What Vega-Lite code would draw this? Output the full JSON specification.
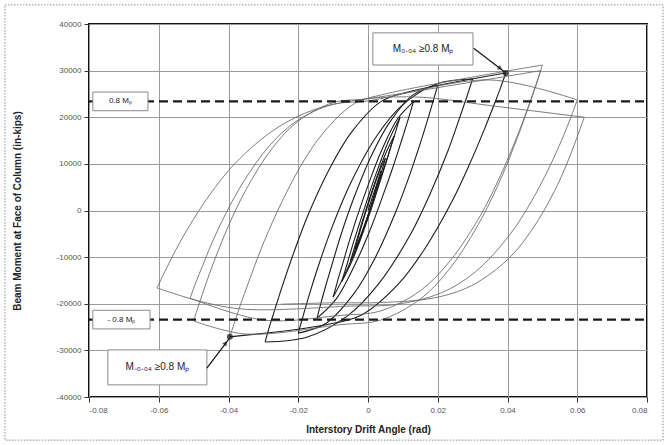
{
"$schema":"https://vega.github.io/schema/vega-lite/v6.json",
"width":558,"height":373,"autosize":"none",
"padding":{"left":89,"top":24,"right":21,"bottom":48},
"background":"white",
"config":{"view":{"stroke":"#111","strokeWidth":2},"font":"Liberation Sans",
 "axis":{"gridColor":"#9a9a9a","gridWidth":1,"domain":false,"tickColor":"#333","tickSize":5,"labelFontSize":8,"labelColor":"#555","titleFontSize":10,"titleFontWeight":"bold","titleColor":"#222"}},
"datasets":{
"hyst":[
{"h":0,"i":0,"d":0,"m":0,"t":"a"},{"h":0,"i":1,"d":0.00375,"m":8500,"t":"a"},
{"h":1,"i":0,"d":0.00375,"m":8500,"t":"a"},{"h":1,"i":1,"d":0.00225,"m":4550,"t":"a"},{"h":1,"i":2,"d":0.0004,"m":-100,"t":"a"},{"h":1,"i":3,"d":-0.00225,"m":-5860,"t":"a"},{"h":1,"i":4,"d":-0.00375,"m":-8300,"t":"a"},
{"h":2,"i":0,"d":-0.00375,"m":-8300,"t":"a"},{"h":2,"i":1,"d":-0.002,"m":-3720,"t":"a"},{"h":2,"i":2,"d":0.0002,"m":1680,"t":"a"},{"h":2,"i":3,"d":0.00325,"m":8370,"t":"a"},{"h":2,"i":4,"d":0.005,"m":11200,"t":"a"},
{"h":3,"i":0,"d":0.005,"m":11200,"t":"a"},{"h":3,"i":1,"d":0.003,"m":6030,"t":"a"},{"h":3,"i":2,"d":0.0005,"m":-60,"t":"a"},{"h":3,"i":3,"d":-0.003,"m":-7610,"t":"a"},{"h":3,"i":4,"d":-0.005,"m":-10800,"t":"a"},
{"h":4,"i":0,"d":-0.005,"m":-10800,"t":"a"},{"h":4,"i":1,"d":-0.0025,"m":-4500,"t":"a"},{"h":4,"i":2,"d":0.0006,"m":2920,"t":"a"},{"h":4,"i":3,"d":0.005,"m":12110,"t":"a"},{"h":4,"i":4,"d":0.0075,"m":16000,"t":"a"},
{"h":5,"i":0,"d":0.0075,"m":16000,"t":"a"},{"h":5,"i":1,"d":0.0045,"m":8670,"t":"a"},{"h":5,"i":2,"d":0.0008,"m":30,"t":"a"},{"h":5,"i":3,"d":-0.0045,"m":-10680,"t":"a"},{"h":5,"i":4,"d":-0.0075,"m":-15200,"t":"a"},
{"h":6,"i":0,"d":-0.0075,"m":-15200,"t":"a"},{"h":6,"i":1,"d":-0.007,"m":-13930,"t":"a"},{"h":6,"i":2,"d":-0.0063,"m":-12280,"t":"a"},{"h":6,"i":3,"d":-0.0055,"m":-10200,"t":"a"},{"h":6,"i":4,"d":-0.0042,"m":-6930,"t":"a"},{"h":6,"i":5,"d":-0.0025,"m":-2950,"t":"a"},{"h":6,"i":6,"d":0.0,"m":2820,"t":"a"},{"h":6,"i":7,"d":0.0025,"m":8280,"t":"a"},{"h":6,"i":8,"d":0.0059,"m":14900,"t":"a"},{"h":6,"i":9,"d":0.0092,"m":20000,"t":"a"},
{"h":7,"i":0,"d":0.0092,"m":20000,"t":"a"},{"h":7,"i":1,"d":0.0086,"m":18610,"t":"a"},{"h":7,"i":2,"d":0.0079,"m":16800,"t":"a"},{"h":7,"i":3,"d":0.0069,"m":14520,"t":"a"},{"h":7,"i":4,"d":0.0054,"m":10930,"t":"a"},{"h":7,"i":5,"d":0.0034,"m":6570,"t":"a"},{"h":7,"i":6,"d":0.0006,"m":240,"t":"a"},{"h":7,"i":7,"d":-0.0023,"m":-5750,"t":"a"},{"h":7,"i":8,"d":-0.0062,"m":-13000,"t":"a"},{"h":7,"i":9,"d":-0.01,"m":-18600,"t":"a"},
{"h":8,"i":0,"d":-0.01,"m":-18600,"t":"a"},{"h":8,"i":1,"d":-0.0093,"m":-16710,"t":"a"},{"h":8,"i":2,"d":-0.0084,"m":-14280,"t":"a"},{"h":8,"i":3,"d":-0.0072,"m":-11270,"t":"a"},{"h":8,"i":4,"d":-0.0054,"m":-6660,"t":"a"},{"h":8,"i":5,"d":-0.0031,"m":-1250,"t":"a"},{"h":8,"i":6,"d":0.0004,"m":6200,"t":"a"},{"h":8,"i":7,"d":0.0038,"m":12700,"t":"a"},{"h":8,"i":8,"d":0.0084,"m":19570,"t":"a"},{"h":8,"i":9,"d":0.013,"m":23300,"t":"a"},
{"h":9,"i":0,"d":0.013,"m":23300,"t":"a"},{"h":9,"i":1,"d":0.0122,"m":21210,"t":"a"},{"h":9,"i":2,"d":0.0111,"m":18520,"t":"a"},{"h":9,"i":3,"d":0.0097,"m":15180,"t":"a"},{"h":9,"i":4,"d":0.0075,"m":10080,"t":"a"},{"h":9,"i":5,"d":0.0047,"m":4090,"t":"a"},{"h":9,"i":6,"d":0.0006,"m":-4170,"t":"a"},{"h":9,"i":7,"d":-0.0036,"m":-11360,"t":"a"},{"h":9,"i":8,"d":-0.0091,"m":-18970,"t":"a"},{"h":9,"i":9,"d":-0.0146,"m":-23100,"t":"a"},
{"h":10,"i":0,"d":-0.0146,"m":-23100,"t":"a"},{"h":10,"i":1,"d":-0.0136,"m":-20150,"t":"a"},{"h":10,"i":2,"d":-0.0122,"m":-16350,"t":"a"},{"h":10,"i":3,"d":-0.0104,"m":-11800,"t":"a"},{"h":10,"i":4,"d":-0.0077,"m":-5100,"t":"a"},{"h":10,"i":5,"d":-0.0042,"m":2400,"t":"a"},{"h":10,"i":6,"d":0.001,"m":11800,"t":"a"},{"h":10,"i":7,"d":0.0062,"m":18900,"t":"a"},{"h":10,"i":8,"d":0.0131,"m":24900,"t":"a"},{"h":10,"i":9,"d":0.02,"m":26900,"t":"a"},
{"h":11,"i":0,"d":0.02,"m":26900,"t":"a"},{"h":11,"i":1,"d":0.0188,"m":23760,"t":"a"},{"h":11,"i":2,"d":0.0172,"m":19720,"t":"a"},{"h":11,"i":3,"d":0.0152,"m":14880,"t":"a"},{"h":11,"i":4,"d":0.012,"m":7750,"t":"a"},{"h":11,"i":5,"d":0.008,"m":-230,"t":"a"},{"h":11,"i":6,"d":0.002,"m":-10230,"t":"a"},{"h":11,"i":7,"d":-0.004,"m":-17790,"t":"a"},{"h":11,"i":8,"d":-0.012,"m":-24170,"t":"a"},{"h":11,"i":9,"d":-0.02,"m":-26300,"t":"a"},
{"h":12,"i":0,"d":-0.02,"m":-26300,"t":"a"},{"h":12,"i":1,"d":-0.0185,"m":-22320,"t":"a"},{"h":12,"i":2,"d":-0.0165,"m":-17250,"t":"a"},{"h":12,"i":3,"d":-0.014,"m":-11370,"t":"a"},{"h":12,"i":4,"d":-0.01,"m":-2970,"t":"a"},{"h":12,"i":5,"d":-0.005,"m":5860,"t":"a"},{"h":12,"i":6,"d":0.0025,"m":15990,"t":"a"},{"h":12,"i":7,"d":0.01,"m":22700,"t":"a"},{"h":12,"i":8,"d":0.02,"m":27220,"t":"a"},{"h":12,"i":9,"d":0.03,"m":28200,"t":"a"},
{"h":13,"i":0,"d":0.03,"m":28200,"t":"a"},{"h":13,"i":1,"d":0.0282,"m":24080,"t":"a"},{"h":13,"i":2,"d":0.0258,"m":18840,"t":"a"},{"h":13,"i":3,"d":0.0229,"m":12750,"t":"a"},{"h":13,"i":4,"d":0.0181,"m":4060,"t":"a"},{"h":13,"i":5,"d":0.0122,"m":-5080,"t":"a"},{"h":13,"i":6,"d":0.0032,"m":-15570,"t":"a"},{"h":13,"i":7,"d":-0.0057,"m":-22500,"t":"a"},{"h":13,"i":8,"d":-0.0176,"m":-27190,"t":"a"},{"h":13,"i":9,"d":-0.0295,"m":-28200,"t":"a"},
{"h":14,"i":0,"d":-0.0295,"m":-28200,"t":"a"},{"h":14,"i":1,"d":-0.0283,"m":-25030,"t":"a"},{"h":14,"i":2,"d":-0.0266,"m":-20950,"t":"a"},{"h":14,"i":3,"d":-0.0245,"m":-16060,"t":"a"},{"h":14,"i":4,"d":-0.0212,"m":-8870,"t":"a"},{"h":14,"i":5,"d":-0.0171,"m":-810,"t":"a"},{"h":14,"i":6,"d":-0.0108,"m":9280,"t":"a"},{"h":14,"i":7,"d":-0.0046,"m":16910,"t":"a"},{"h":14,"i":8,"d":0.0037,"m":23350,"t":"a"},{"h":14,"i":9,"d":0.012,"m":25500,"t":"a"},{"h":14,"i":10,"d":0.0395,"m":29500,"t":"a"},
{"h":15,"i":0,"d":0.0395,"m":29500,"t":"a"},{"h":15,"i":1,"d":0.038,"m":26310,"t":"a"},{"h":15,"i":2,"d":0.0359,"m":22210,"t":"a"},{"h":15,"i":3,"d":0.0333,"m":17300,"t":"a"},{"h":15,"i":4,"d":0.0292,"m":10060,"t":"a"},{"h":15,"i":5,"d":0.0241,"m":1960,"t":"a"},{"h":15,"i":6,"d":0.0163,"m":-8190,"t":"a"},{"h":15,"i":7,"d":0.0086,"m":-15860,"t":"a"},{"h":15,"i":8,"d":-0.0017,"m":-22340,"t":"a"},{"h":15,"i":9,"d":-0.012,"m":-24500,"t":"a"},{"h":15,"i":10,"d":-0.0396,"m":-27100,"t":"a"},
{"h":16,"i":0,"d":-0.0396,"m":-27100,"t":"b"},{"h":16,"i":1,"d":-0.0383,"m":-24030,"t":"b"},{"h":16,"i":2,"d":-0.0365,"m":-20070,"t":"b"},{"h":16,"i":3,"d":-0.0342,"m":-15330,"t":"b"},{"h":16,"i":4,"d":-0.0307,"m":-8340,"t":"b"},{"h":16,"i":5,"d":-0.0262,"m":-530,"t":"b"},{"h":16,"i":6,"d":-0.0195,"m":9270,"t":"b"},{"h":16,"i":7,"d":-0.0128,"m":16660,"t":"b"},{"h":16,"i":8,"d":-0.0039,"m":22920,"t":"b"},{"h":16,"i":9,"d":0.005,"m":25000,"t":"b"},{"h":16,"i":10,"d":0.05,"m":31200,"t":"b"},
{"h":17,"i":0,"d":0.05,"m":31200,"t":"b"},{"h":17,"i":1,"d":0.0483,"m":27130,"t":"b"},{"h":17,"i":2,"d":0.0459,"m":21950,"t":"b"},{"h":17,"i":3,"d":0.043,"m":15940,"t":"b"},{"h":17,"i":4,"d":0.0384,"m":7360,"t":"b"},{"h":17,"i":5,"d":0.0326,"m":-1660,"t":"b"},{"h":17,"i":6,"d":0.0239,"m":-12020,"t":"b"},{"h":17,"i":7,"d":0.0152,"m":-18870,"t":"b"},{"h":17,"i":8,"d":0.0036,"m":-23500,"t":"b"},{"h":17,"i":9,"d":-0.008,"m":-24500,"t":"b"},{"h":17,"i":10,"d":-0.035,"m":-26500,"t":"b"},{"h":17,"i":11,"d":-0.05,"m":-23700,"t":"b"},
{"h":18,"i":0,"d":-0.05,"m":-23700,"t":"b"},{"h":18,"i":1,"d":-0.0485,"m":-20220,"t":"b"},{"h":18,"i":2,"d":-0.0465,"m":-15780,"t":"b"},{"h":18,"i":3,"d":-0.044,"m":-10630,"t":"b"},{"h":18,"i":4,"d":-0.04,"m":-3280,"t":"b"},{"h":18,"i":5,"d":-0.035,"m":4440,"t":"b"},{"h":18,"i":6,"d":-0.0275,"m":13320,"t":"b"},{"h":18,"i":7,"d":-0.02,"m":19180,"t":"b"},{"h":18,"i":8,"d":-0.01,"m":23140,"t":"b"},{"h":18,"i":9,"d":0.0,"m":24000,"t":"b"},{"h":18,"i":10,"d":0.0495,"m":30000,"t":"b"},
{"h":19,"i":0,"d":0.0495,"m":30000,"t":"b"},{"h":19,"i":1,"d":0.0478,"m":26170,"t":"b"},{"h":19,"i":2,"d":0.0455,"m":21290,"t":"b"},{"h":19,"i":3,"d":0.0426,"m":15620,"t":"b"},{"h":19,"i":4,"d":0.038,"m":7530,"t":"b"},{"h":19,"i":5,"d":0.0323,"m":-980,"t":"b"},{"h":19,"i":6,"d":0.0236,"m":-10740,"t":"b"},{"h":19,"i":7,"d":0.015,"m":-17200,"t":"b"},{"h":19,"i":8,"d":0.0035,"m":-21560,"t":"b"},{"h":19,"i":9,"d":-0.008,"m":-22500,"t":"b"},{"h":19,"i":10,"d":-0.03,"m":-23500,"t":"b"},{"h":19,"i":11,"d":-0.051,"m":-18800,"t":"b"},
{"h":20,"i":0,"d":-0.051,"m":-18800,"t":"b"},{"h":20,"i":1,"d":-0.0495,"m":-15710,"t":"b"},{"h":20,"i":2,"d":-0.0474,"m":-11780,"t":"b"},{"h":20,"i":3,"d":-0.0449,"m":-7210,"t":"b"},{"h":20,"i":4,"d":-0.0408,"m":-700,"t":"b"},{"h":20,"i":5,"d":-0.0357,"m":6160,"t":"b"},{"h":20,"i":6,"d":-0.0281,"m":14030,"t":"b"},{"h":20,"i":7,"d":-0.0204,"m":19230,"t":"b"},{"h":20,"i":8,"d":-0.0102,"m":22740,"t":"b"},{"h":20,"i":9,"d":0.0,"m":23500,"t":"b"},{"h":20,"i":10,"d":0.035,"m":28000,"t":"b"},{"h":20,"i":11,"d":0.06,"m":23700,"t":"b"},
{"h":21,"i":0,"d":0.06,"m":23700,"t":"b"},{"h":21,"i":1,"d":0.0581,"m":19850,"t":"b"},{"h":21,"i":2,"d":0.0555,"m":15040,"t":"b"},{"h":21,"i":3,"d":0.0522,"m":9600,"t":"b"},{"h":21,"i":4,"d":0.047,"m":2130,"t":"b"},{"h":21,"i":5,"d":0.0405,"m":-5340,"t":"b"},{"h":21,"i":6,"d":0.0308,"m":-13160,"t":"b"},{"h":21,"i":7,"d":0.021,"m":-17670,"t":"b"},{"h":21,"i":8,"d":0.008,"m":-20150,"t":"b"},{"h":21,"i":9,"d":-0.005,"m":-20500,"t":"b"},{"h":21,"i":10,"d":-0.035,"m":-21200,"t":"b"},{"h":21,"i":11,"d":-0.048,"m":-19500,"t":"b"},{"h":21,"i":12,"d":-0.0605,"m":-16600,"t":"b"},
{"h":22,"i":0,"d":-0.0605,"m":-16600,"t":"b"},{"h":22,"i":1,"d":-0.0582,"m":-13040,"t":"b"},{"h":22,"i":2,"d":-0.0552,"m":-8580,"t":"b"},{"h":22,"i":3,"d":-0.0514,"m":-3550,"t":"b"},{"h":22,"i":4,"d":-0.0454,"m":3360,"t":"b"},{"h":22,"i":5,"d":-0.0379,"m":10270,"t":"b"},{"h":22,"i":6,"d":-0.0265,"m":17510,"t":"b"},{"h":22,"i":7,"d":-0.0152,"m":21680,"t":"b"},{"h":22,"i":8,"d":-0.0001,"m":23970,"t":"b"},{"h":22,"i":9,"d":0.015,"m":24300,"t":"b"},{"h":22,"i":10,"d":0.035,"m":22500,"t":"b"},{"h":22,"i":11,"d":0.062,"m":20000,"t":"b"},
{"h":23,"i":0,"d":0.062,"m":20000,"t":"b"},{"h":23,"i":1,"d":0.0598,"m":15420,"t":"b"},{"h":23,"i":2,"d":0.057,"m":9970,"t":"b"},{"h":23,"i":3,"d":0.0534,"m":4080,"t":"b"},{"h":23,"i":4,"d":0.0476,"m":-3480,"t":"b"},{"h":23,"i":5,"d":0.0404,"m":-10250,"t":"b"},{"h":23,"i":6,"d":0.0296,"m":-16140,"t":"b"},{"h":23,"i":7,"d":0.0188,"m":-18770,"t":"b"},{"h":23,"i":8,"d":0.0044,"m":-19720,"t":"b"},{"h":23,"i":9,"d":-0.01,"m":-19800,"t":"b"},{"h":23,"i":10,"d":-0.025,"m":-20100,"t":"b"}
]},
"layer":[
{"data":{"values":[{"d":-0.1041,"d2":0.0846,"m":44100,"m2":-49250}]},
 "mark":{"type":"rect","fill":"transparent","stroke":"#8a8a8a","strokeDash":[1.5,1.5],"strokeWidth":1},
 "encoding":{
  "x":{"field":"d","type":"quantitative","scale":{"domain":[-0.08,0.08],"nice":false,"zero":false},"title":"Interstory Drift Angle (rad)",
   "axis":{"values":[-0.08,-0.06,-0.04,-0.02,0,0.02,0.04,0.06,0.08],"labelExpr":"''+datum.value","labelPadding":4,"titlePadding":10,"grid":true}},
  "x2":{"field":"d2"},
  "y":{"field":"m","type":"quantitative","scale":{"domain":[-40000,40000],"nice":false},"title":"Beam Moment at Face of Column (in-kips)",
   "axis":{"values":[-40000,-30000,-20000,-10000,0,10000,20000,30000,40000],"labelExpr":"''+datum.value","labelPadding":3,"titlePadding":34,"grid":true}},
  "y2":{"field":"m2"}}},
{"data":{"name":"hyst"},
 "mark":{"type":"line","strokeJoin":"round","interpolate":"catmull-rom"},
 "encoding":{
  "x":{"field":"d","type":"quantitative","title":"Interstory Drift Angle (rad)"},
  "y":{"field":"m","type":"quantitative","title":"Beam Moment at Face of Column (in-kips)"},
  "detail":{"field":"h"},
  "order":{"field":"i","type":"quantitative"},
  "color":{"field":"t","type":"nominal","scale":{"domain":["a","b"],"range":["#1c1c1c","#6e6e6e"]},"legend":null},
  "strokeWidth":{"field":"t","type":"nominal","scale":{"domain":["a","b"],"range":[1.1,0.9]},"legend":null}}},
{"data":{"values":[{"d":-0.08,"d2":0.08,"m":23400},{"d":-0.08,"d2":0.08,"m":-23400}]},
 "mark":{"type":"rule","color":"#1a1a1a","strokeWidth":2.3,"strokeDash":[9,5]},
 "encoding":{"x":{"field":"d","type":"quantitative","title":"Interstory Drift Angle (rad)"},"x2":{"field":"d2"},"y":{"field":"m","type":"quantitative","title":"Beam Moment at Face of Column (in-kips)"}}},
{"data":{"values":[
  {"d":-0.0789,"d2":-0.0631,"m":21400,"m2":25400},
  {"d":-0.0789,"d2":-0.0625,"m":-21400,"m2":-25400},
  {"d":0.0014,"d2":0.0301,"m":31200,"m2":38100},
  {"d":-0.0746,"d2":-0.0462,"m":-29900,"m2":-37400}]},
 "mark":{"type":"rect","fill":"white","stroke":"#8a8a8a","strokeWidth":1},
 "encoding":{"x":{"field":"d","type":"quantitative","title":"Interstory Drift Angle (rad)"},"x2":{"field":"d2"},"y":{"field":"m","type":"quantitative","title":"Beam Moment at Face of Column (in-kips)"},"y2":{"field":"m2"}}},
{"data":{"values":[
  {"d":0.0303,"m":34800,"d2":0.0392,"m2":29700},
  {"d":-0.0462,"m":-33800,"d2":-0.0398,"m2":-27500}]},
 "mark":{"type":"rule","color":"#1a1a1a","strokeWidth":1.3},
 "encoding":{"x":{"field":"d","type":"quantitative","title":"Interstory Drift Angle (rad)"},"x2":{"field":"d2"},"y":{"field":"m","type":"quantitative","title":"Beam Moment at Face of Column (in-kips)"},"y2":{"field":"m2"}}},
{"data":{"values":[
  {"d":0.0379,"m":30465,"a":127},
  {"d":-0.0408,"m":-28445,"a":38}]},
 "mark":{"type":"point","shape":"triangle-up","filled":true,"color":"#111","size":28},
 "encoding":{"x":{"field":"d","type":"quantitative","title":"Interstory Drift Angle (rad)"},"y":{"field":"m","type":"quantitative","title":"Beam Moment at Face of Column (in-kips)"},"angle":{"field":"a","type":"quantitative","scale":null}}},
{"data":{"values":[{"d":0.0395,"m":29500},{"d":-0.0396,"m":-27100}]},
 "mark":{"type":"point","shape":"circle","filled":true,"color":"#111","size":36},
 "encoding":{"x":{"field":"d","type":"quantitative","title":"Interstory Drift Angle (rad)"},"y":{"field":"m","type":"quantitative","title":"Beam Moment at Face of Column (in-kips)"}}},
{"data":{"values":[
  {"d":-0.071,"m":23400,"label":"0.8 Mₚ","s":8},
  {"d":-0.0707,"m":-23400,"label":"- 0.8 Mₚ","s":8},
  {"d":0.0158,"m":34650,"label":"M₀.₀₄ ≥0.8 Mₚ","s":10},
  {"d":-0.0604,"m":-33650,"label":"M₋₀.₀₄ ≥0.8 Mₚ","s":10}]},
 "mark":{"type":"text","align":"center","baseline":"middle","color":"#222"},
 "encoding":{"x":{"field":"d","type":"quantitative","title":"Interstory Drift Angle (rad)"},"y":{"field":"m","type":"quantitative","title":"Beam Moment at Face of Column (in-kips)"},"text":{"field":"label"},"size":{"field":"s","type":"quantitative","scale":null}}}
]
}
